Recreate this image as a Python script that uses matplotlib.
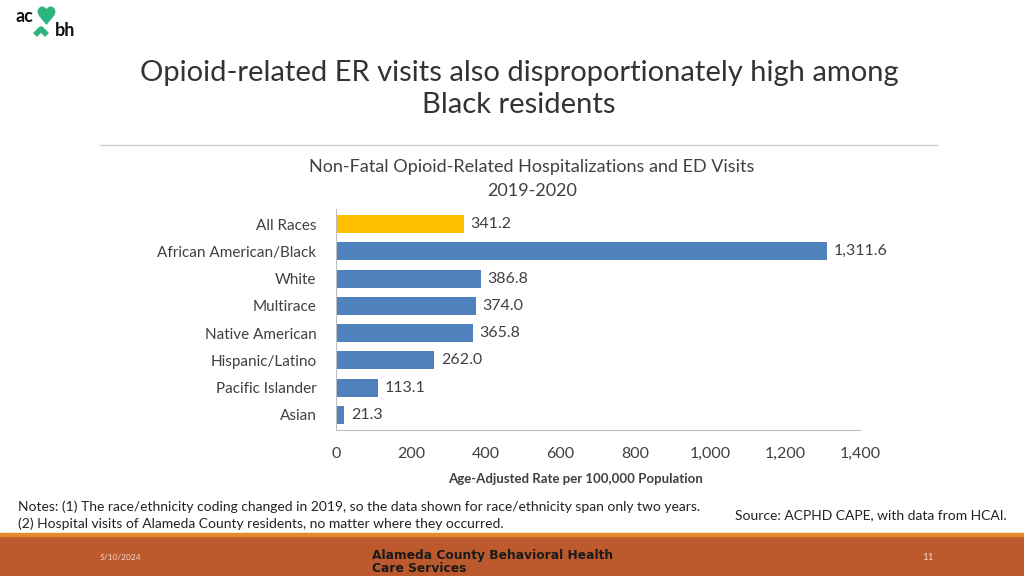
import numpy as np, matplotlib
matplotlib.use('Agg')
import matplotlib.pyplot as plt
import matplotlib.patches as mpatches
from matplotlib.lines import Line2D

BLUE = '#4F81BD'; GOLD = '#FFC000'; TXT = '#404040'; GREEN = '#2DB37D'
plt.rcParams.update({'font.family': ['Lato', 'DejaVu Sans'], 'font.size': 11})

categories = ['All Races', 'African American/Black', 'White', 'Multirace',
              'Native American', 'Hispanic/Latino', 'Pacific Islander', 'Asian']
rates = [341.2, 1311.6, 386.8, 374.0, 365.8, 262.0, 113.1, 21.3]
bar_colors = [GOLD] + [BLUE] * 7
xticks = [0, 200, 400, 600, 800, 1000, 1200, 1400]

fig = plt.figure(figsize=(10.24, 5.76), dpi=100)
ax = fig.add_axes([336/1024, 1 - 430/576, (860 - 336)/1024, (430 - 209)/576])

y = np.arange(len(categories))
ax.barh(y, rates, height=0.66, color=bar_colors)
ax.set_ylim(len(categories) - 0.45, -0.55)
ax.set_xlim(0, 1400)
for yi, v in zip(y, rates):
    ax.text(v + 18, yi, f'{v:,.1f}', va='center', ha='left', fontsize=11.5, color=TXT)
ax.set_yticks(y)
ax.set_yticklabels(categories, fontsize=11, color=TXT)
ax.set_xticks(xticks)
ax.set_xticklabels([f'{t:,}' for t in xticks], fontsize=11.5, color=TXT)
ax.tick_params(length=0, pad=12)
ax.tick_params(axis='y', pad=14)
for s in ['top', 'right']:
    ax.spines[s].set_visible(False)
for s in ['left', 'bottom']:
    ax.spines[s].set_color('#BFBFBF')
ax.set_facecolor('none')

fig.text(575/1024, 1 - 479/576, 'Age-Adjusted Rate per 100,000 Population', ha='center', va='center',
         fontsize=9.5, fontweight='bold', color=TXT)

# titles
fig.text(519/1024, 1 - 89/576, 'Opioid-related ER visits also disproportionately high among\nBlack residents',
         ha='center', va='center', fontsize=21, color='#333333', linespacing=1.25)
fig.add_artist(Line2D([100/1024, 937/1024], [1 - 145/576] * 2, color='#D0D0D0', lw=1))
fig.text(532/1024, 1 - 179/576, 'Non-Fatal Opioid-Related Hospitalizations and ED Visits\n2019-2020',
         ha='center', va='center', fontsize=13, color=TXT, linespacing=1.6)

# notes
fig.text(18/1024, 1 - 515/576,
         'Notes: (1) The race/ethnicity coding changed in 2019, so the data shown for race/ethnicity span only two years.\n'
         '(2) Hospital visits of Alameda County residents, no matter where they occurred.',
         ha='left', va='center', fontsize=10, color='#222222', linespacing=1.4)
fig.text(1007/1024, 1 - 515/576, 'Source: ACPHD CAPE, with data from HCAI.', ha='right', va='center',
         fontsize=10, color='#222222')

# footer band
fig.add_artist(mpatches.Rectangle((0, 0), 1, 1 - 536/576, transform=fig.transFigure, color='#BC5A2E', zorder=0))
fig.add_artist(mpatches.Rectangle((0, 1 - 536/576), 1, 3/576, transform=fig.transFigure, color='#E5892B', zorder=0))
fig.text(100/1024, 1 - 558/576, '5/10/2024', ha='left', va='center', fontsize=6, color='#F2D7C8')
fig.text(372/1024, 1 - 562/576, 'Alameda County Behavioral Health\nCare Services', ha='left', va='center',
         fontsize=8.8, fontweight='heavy', color='#1A1A1A', linespacing=0.95,
         family=['DejaVu Sans'])
fig.text(928/1024, 1 - 558/576, '11', ha='center', va='center', fontsize=7, color='#F2D7C8')

# logo
fig.text(15/1024, 1 - 16/576, 'ac', ha='left', va='center', fontsize=13, fontweight='bold', color='#111111')
fig.text(55/1024, 1 - 30/576, 'bh', ha='left', va='center', fontsize=13, fontweight='bold', color='#111111')
fig.add_artist(Line2D([46/1024], [1 - 15/576], marker='$\u2665$', markersize=12, color=GREEN))
fig.add_artist(Line2D([35/1024, 41/1024, 47/1024], [1 - 35/576, 1 - 29/576, 1 - 35/576], color=GREEN, lw=4,
                      solid_capstyle='butt'))

fig.savefig('out.png', dpi=100)
